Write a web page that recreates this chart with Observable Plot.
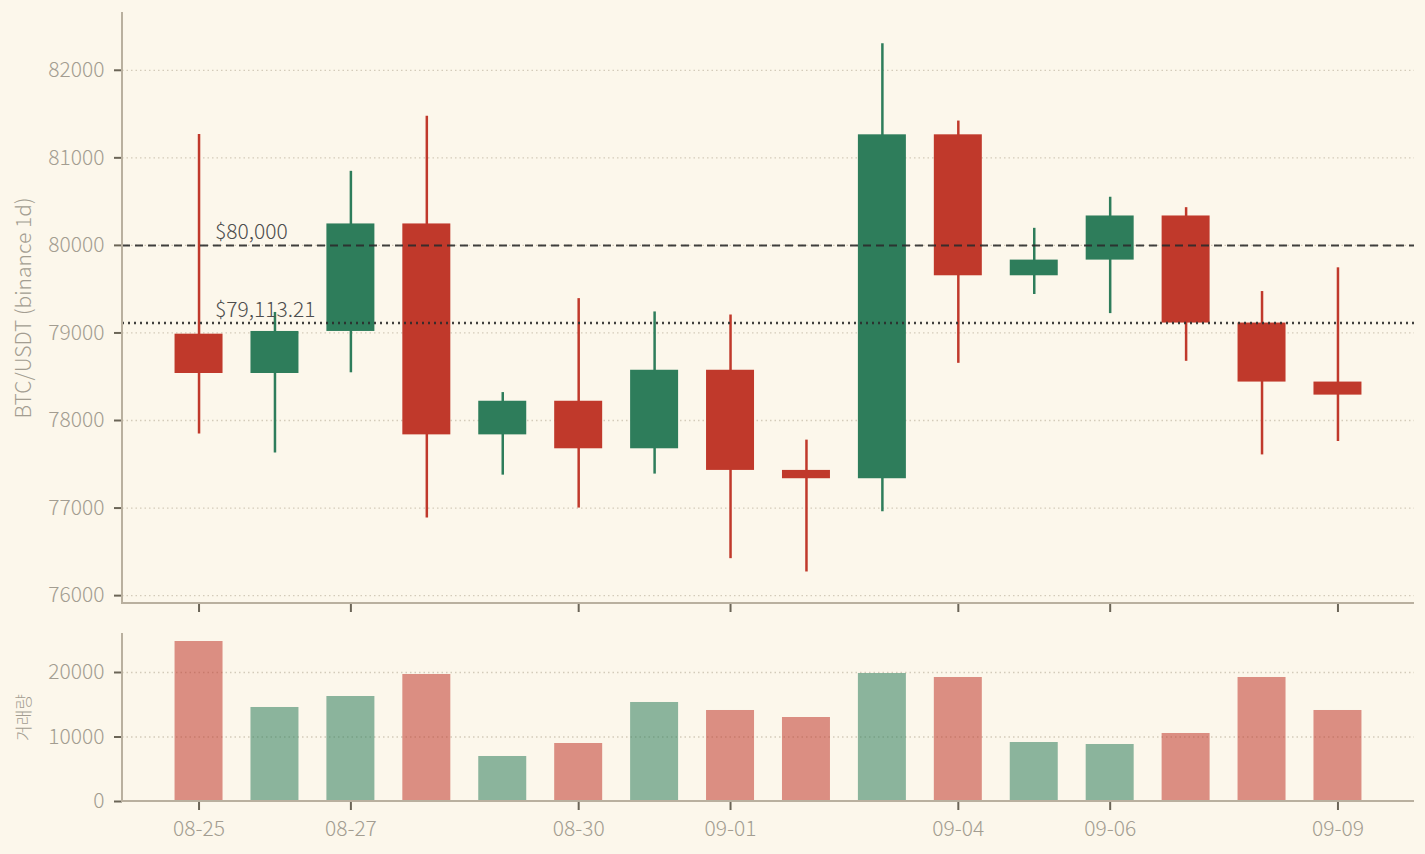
<!DOCTYPE html>
<html><head><meta charset="utf-8">
<script src="https://cdn.jsdelivr.net/npm/d3@7"></script>
<script src="https://cdn.jsdelivr.net/npm/@observablehq/plot@0.6"></script>
<style>
html,body{margin:0;padding:0;background:#fcf7eb;}
#chart svg{display:block;}
</style></head><body><div id="chart"></div>
<script>
const dates = ["08-25","08-26","08-27","08-28","08-29","08-30","08-31","09-01","09-02","09-03","09-04","09-05","09-06","09-07","09-08","09-09"];
const opens  = [78986, 78537, 79017, 80245, 77836, 78220, 77677, 78574, 77430, 77335, 81263, 79653, 79832, 80336, 79113, 78439];
const highs  = [81267, 79234, 80846, 81474, 78319, 79392, 79240, 79205, 77776, 82302, 81420, 80195, 80550, 80431, 79473, 79744];
const lows   = [77846, 77629, 78545, 76886, 77376, 77000, 77388, 76422, 76270, 76958, 78653, 79439, 79221, 78676, 77607, 77760];
const closes = [78537, 79017, 80245, 77836, 78220, 77677, 78574, 77430, 77335, 81263, 79653, 79832, 80336, 79113.21, 78439, 78290];
const volumes = [24806, 14574, 16279, 19690, 6977, 8992, 15349, 14109, 13023, 19845, 19225, 9147, 8837, 10543, 19225, 14109];
const xTicks = ["08-25","08-27","08-30","09-01","09-04","09-06","09-09"];
const priceTicks = [76000, 77000, 78000, 79000, 80000, 81000, 82000];
const volumeTicks = [0, 10000, 20000];
const refLevels = [80000, 79113.21];
const refLabels = ["$80,000", "$79,113.21"];
const priceLabel = "BTC/USDT (binance 1d)";
const volumeLabel = "거래량";

const RED = "#c0392b", GREEN = "#2e7d5b";
const FONT = "'Noto Sans CJK KR Light', 'Noto Sans CJK KR DemiLight', 'Noto Sans CJK KR', 'Noto Sans', sans-serif";
const TICKTEXT = "#a39d91", TICKLINE = "#6b6557", SPINE = "#b9b09f", GRID = "#d3cbba";

const candles = dates.map((d, i) => ({date: d, open: opens[i], high: highs[i], low: lows[i], close: closes[i], volume: volumes[i]}));
const col = d => d.close >= d.open ? GREEN : RED;
const refs = refLevels.map((v, i) => ({level: v, label: refLabels[i], date: dates[0]}));

const xScale = {type: "band", domain: dates, paddingInner: 0.368, paddingOuter: 0.692, round: false, axis: null};
const baseStyle = {background: "transparent", fontFamily: FONT, fontSize: "21px", fontWeight: 300, color: TICKTEXT, overflow: "visible"};

function spines() {
  return (index, scales, values, dims) => {
    const {marginLeft, marginTop, marginBottom, marginRight, width, height} = dims;
    const g = d3.create("svg:g").attr("stroke", SPINE).attr("stroke-width", 2).attr("fill", "none");
    g.append("line").attr("x1", marginLeft).attr("x2", marginLeft).attr("y1", marginTop).attr("y2", height - marginBottom + 1);
    g.append("line").attr("x1", marginLeft - 1).attr("x2", width - marginRight).attr("y1", height - marginBottom).attr("y2", height - marginBottom);
    return g.node();
  };
}

const priceChart = Plot.plot({
  width: 1425, height: 618,
  marginLeft: 122, marginRight: 11, marginTop: 12, marginBottom: 15,
  style: baseStyle,
  x: xScale,
  y: {domain: [75910, 82660], axis: null},
  marks: [
    Plot.gridY(priceTicks, {stroke: GRID, strokeOpacity: 1, strokeWidth: 1.3, strokeDasharray: "1.5,3"}),
    Plot.ruleX(candles, {x: "date", y1: "low", y2: "high", stroke: col, strokeWidth: 2.5}),
    Plot.barY(candles, {x: "date", y1: "open", y2: "close", fill: col}),
    Plot.ruleY([refLevels[0]], {stroke: "#2b2b2b", strokeOpacity: 0.9, strokeWidth: 2, strokeDasharray: "8,5"}),
    Plot.ruleY([refLevels[1]], {stroke: "#2b2b2b", strokeOpacity: 0.9, strokeWidth: 2.5, strokeDasharray: "2,4"}),
    Plot.text(refs, {x: "date", y: "level", text: "label", dx: 16, dy: -6, textAnchor: "start", lineAnchor: "bottom", fill: "#4d4d4d", fontSize: 21}),
    Plot.axisY(priceTicks, {tickFormat: "d", tickSize: 8, tickPadding: 10, stroke: TICKLINE, strokeWidth: 2, fill: TICKTEXT,
      label: priceLabel, labelAnchor: "center", labelArrow: "none", labelOffset: 106}),
    Plot.axisX(xTicks, {tickSize: 9, tickFormat: () => "", stroke: TICKLINE, strokeWidth: 2, label: null}),
    spines()
  ]
});

const volumeChart = Plot.plot({
  width: 1425, height: 236,
  marginLeft: 122, marginRight: 11, marginTop: 15, marginBottom: 53,
  style: baseStyle,
  x: xScale,
  y: {domain: [0, 26046], axis: null},
  marks: [
    Plot.gridY(volumeTicks.slice(1), {stroke: GRID, strokeOpacity: 1, strokeWidth: 1.3, strokeDasharray: "1.5,3"}),
    Plot.barY(candles, {x: "date", y: "volume", fill: col, fillOpacity: 0.55}),
    Plot.axisY(volumeTicks, {tickFormat: "d", tickSize: 8, tickPadding: 10, stroke: TICKLINE, strokeWidth: 2, fill: TICKTEXT, label: null}),
    Plot.text([volumeLabel], {text: d => d, frameAnchor: "left", rotate: -90, dx: -105, lineAnchor: "top", textAnchor: "middle", fill: TICKTEXT, fontSize: 17}),
    Plot.axisX(xTicks, {tickSize: 9, tickPadding: 11, stroke: TICKLINE, strokeWidth: 2, fill: TICKTEXT, label: null}),
    spines()
  ]
});

document.getElementById("chart").append(priceChart, volumeChart);
</script>
</body></html>
